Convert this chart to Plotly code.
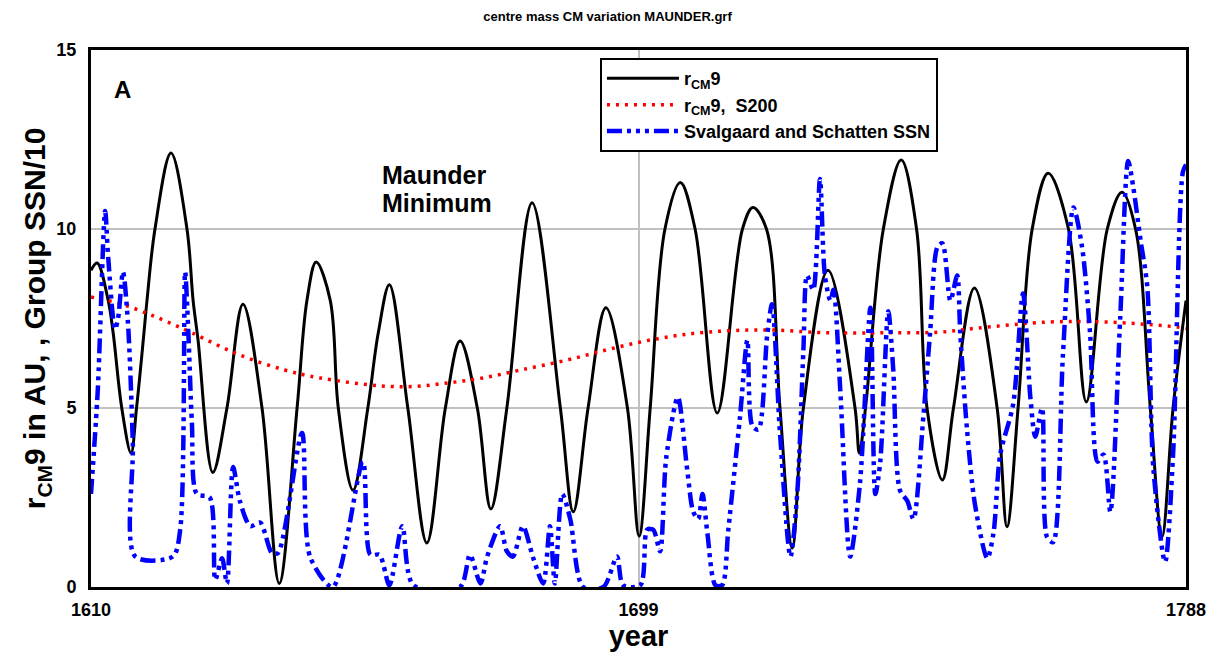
import plotly.graph_objects as go

# r_CM9 (AU): turning points and intermediate readings
rcm_year = [1610.0, 1611.0, 1612.8, 1613.6, 1615.0, 1616.5, 1617.4, 1618.5, 1619.1, 1620.4,
            1623.0, 1625.6, 1626.6, 1627.4, 1629.8, 1632.1, 1634.7, 1637.8, 1640.6, 1643.5,
            1645.1, 1646.6, 1648.9, 1650.2, 1652.6, 1655.0, 1656.7, 1658.5, 1661.5, 1664.6,
            1667.6, 1670.0, 1672.8, 1675.0, 1677.6, 1681.7, 1686.3, 1688.4, 1690.8, 1693.7,
            1697.2, 1699.1, 1700.9, 1703.3, 1705.8, 1708.2, 1711.8, 1715.9, 1717.6, 1719.8,
            1722.0, 1724.0, 1725.8, 1729.8, 1734.2, 1734.9, 1735.9, 1738.8, 1741.7, 1744.2,
            1745.9, 1748.4, 1750.2, 1753.6, 1757.3, 1758.9, 1760.7, 1763.0, 1765.6, 1768.9,
            1771.8, 1775.2, 1777.6, 1779.8, 1782.2, 1784.1, 1785.9, 1788.0]
rcm_val = [8.85, 9.05, 8.0, 7.1, 5.0, 3.74, 5.0, 6.9, 8.0, 10.0,
           12.12, 10.0, 8.0, 6.9, 3.2, 5.0, 7.9, 5.0, 0.1, 5.0,
           8.0, 9.08, 8.0, 5.0, 2.7, 5.0, 7.1, 8.44, 5.0, 1.23,
           5.0, 6.87, 5.0, 2.18, 5.0, 10.73, 5.0, 2.1, 5.0, 7.8,
           5.0, 1.42, 5.0, 10.0, 11.3, 10.0, 4.86, 10.0, 10.6, 10.0,
           5.0, 1.09, 5.0, 8.85, 5.0, 3.74, 5.0, 10.0, 11.93, 10.0,
           5.0, 2.99, 5.0, 8.35, 5.0, 1.68, 5.0, 10.0, 11.56, 10.0,
           5.17, 10.0, 11.03, 10.0, 5.0, 1.4, 5.0, 8.0]

# r_CM9 smoothed over 200 years (S200)
s200_year = [1610, 1615, 1619, 1622.5, 1626.4, 1633.9, 1641.5, 1647.2, 1657, 1662.4,
             1668, 1673.7, 1679.8, 1687.4, 1694.9, 1702.5, 1710.2, 1719.9, 1729.7, 1739.4,
             1748, 1754, 1765.4, 1775.2, 1786.6, 1788]
s200_val = [8.1, 7.9, 7.65, 7.4, 7.1, 6.5, 6.06, 5.84, 5.62, 5.6,
            5.7, 5.84, 6.06, 6.34, 6.67, 6.95, 7.12, 7.18, 7.1, 7.1,
            7.12, 7.23, 7.4, 7.4, 7.26, 7.22]

# Svalgaard and Schatten group sunspot number / 10
ssn_year = [1610.0, 1611.1, 1612.3, 1612.8, 1613.9, 1614.4, 1615.2, 1616.0, 1616.8, 1617.2,
            1623.3, 1624.5, 1625.3, 1625.8, 1626.4, 1627.2, 1629.3, 1630.2, 1631.3, 1632.1,
            1633.1, 1634.2, 1635.9, 1637.5, 1639.4, 1640.4, 1644.3, 1645.6, 1649.3, 1654.2,
            1655.4, 1656.9, 1658.5, 1660.6, 1662.4, 1670.0, 1671.6, 1673.3, 1674.4, 1676.5,
            1677.6, 1678.6, 1680.2, 1681.9, 1683.5, 1684.6, 1685.4, 1686.6, 1687.9, 1690.0,
            1693.3, 1695.5, 1696.5, 1699.3, 1700.4, 1701.4, 1702.5, 1703.5, 1705.4, 1706.9,
            1707.9, 1708.7, 1709.4, 1710.2, 1711.5, 1712.6, 1713.6, 1715.5, 1716.7, 1717.5,
            1718.5, 1719.9, 1720.7, 1722.0, 1723.7, 1724.8, 1725.8, 1726.4, 1727.4, 1728.5,
            1729.3, 1730.2, 1730.7, 1731.8, 1733.4, 1735.0, 1736.7, 1737.5, 1738.3, 1739.6,
            1740.4, 1741.5, 1742.7, 1743.7, 1745.3, 1746.4, 1747.6, 1748.4, 1749.7, 1750.8,
            1751.3, 1752.4, 1753.7, 1755.7, 1756.7, 1757.8, 1759.9, 1761.5, 1762.7, 1763.5,
            1764.6, 1765.4, 1766.4, 1768.0, 1769.7, 1771.1, 1772.4, 1773.6, 1774.6, 1775.7,
            1777.3, 1778.6, 1779.4, 1780.6, 1781.7, 1782.7, 1784.6, 1785.9, 1787.5, 1788.0]
ssn_val = [2.6, 5.5, 10.5, 9.2, 7.2, 7.5, 8.8, 7.4, 4.0, 0.85,
           0.85, 1.6, 8.8, 7.2, 4.6, 2.6, 2.5, 0.2, 0.8, 0.1,
           3.35, 2.4, 1.7, 1.8, 0.95, 0.95, 4.3, 0.85, 0.0, 3.5,
           0.9, 0.9, 0.05, 1.7, 0.05, 0.0, 0.9, 0.1, 0.85, 1.7,
           1.0, 0.85, 1.7, 0.8, 0.1, 1.7, 0.1, 2.6, 1.9, 0.0,
           0.0, 0.85, 0.05, 0.05, 1.6, 1.6, 1.0, 3.6, 5.3, 3.3,
           2.1, 1.9, 2.6, 1.5, 0.05, 0.05, 1.6, 4.75, 6.9, 4.5,
           4.4, 7.0, 7.9, 4.3, 0.85, 2.6, 6.6, 8.7, 8.3, 11.4,
           8.7, 8.0, 8.3, 5.5, 0.85, 2.9, 7.8, 2.6, 3.5, 7.7,
           6.1, 2.7, 2.4, 1.9, 4.75, 7.1, 9.5, 9.6, 8.0, 8.7,
           7.1, 4.4, 2.3, 0.8, 1.5, 3.7, 5.1, 8.2, 5.3, 4.2,
           5.0, 1.4, 1.25, 6.5, 10.6, 9.5, 7.1, 3.5, 3.7, 2.1,
           7.5, 11.9, 11.2, 9.7, 8.4, 3.3, 0.7, 3.7, 11.6, 11.8]

x_ticks = [1610, 1699, 1788]
y_ticks = [0, 5, 10, 15]

FONT = "Liberation Sans, Arial, sans-serif"

fig = go.Figure()

fig.add_trace(go.Scatter(
    x=rcm_year, y=rcm_val, mode="lines", name="r<sub>CM</sub>9",
    line=dict(color="black", width=3, shape="spline", smoothing=1.0),
))
fig.add_trace(go.Scatter(
    x=s200_year, y=s200_val, mode="lines", name="r<sub>CM</sub>9,  S200",
    line=dict(color="#ff0000", width=3.5, dash="3px,6px", shape="spline"),
))
fig.add_trace(go.Scatter(
    x=ssn_year, y=ssn_val, mode="lines", name="Svalgaard and Schatten SSN",
    line=dict(color="#0000ff", width=4.5, shape="spline", smoothing=0.8,
              dash="15px,5px,4px,5px,4px,5px,4px,5px"),
))

# panel letter and period label
fig.add_annotation(x=1615.2, y=13.9, xref="x", yref="y", text="<b>A</b>",
                   showarrow=False, xanchor="center", yanchor="middle",
                   font=dict(family=FONT, size=24, color="black"))
fig.add_annotation(x=1656.9, y=11.5, xref="x", yref="y", text="<b>Maunder</b>",
                   showarrow=False, xanchor="left", yanchor="middle",
                   font=dict(family=FONT, size=25, color="black"))
fig.add_annotation(x=1656.9, y=10.72, xref="x", yref="y", text="<b>Minimum</b>",
                   showarrow=False, xanchor="left", yanchor="middle",
                   font=dict(family=FONT, size=25, color="black"))

fig.update_layout(
    width=1215, height=654,
    margin=dict(l=91, r=29, t=50, b=67, autoexpand=False),
    paper_bgcolor="white", plot_bgcolor="white",
    title=dict(text="<b>centre mass CM variation MAUNDER.grf</b>",
               x=0.5, xref="container", xanchor="center",
               y=0.975, yref="container", yanchor="middle",
               font=dict(family=FONT, size=13, color="black")),
    showlegend=True,
    legend=dict(x=0.4648, y=0.985, xanchor="left", yanchor="top",
                bgcolor="white", bordercolor="black", borderwidth=2,
                font=dict(family=FONT, size=18, color="black", weight="bold"),
                tracegroupgap=0, itemwidth=72),
    xaxis=dict(range=[1610, 1788], tickvals=x_ticks, ticktext=[str(v) for v in x_ticks],
               showgrid=True, gridcolor="#c0c0c0", gridwidth=1.5,
               showline=True, linecolor="black", linewidth=3, mirror=True,
               zeroline=False, ticks="", ticklen=0, ticklabelstandoff=4,
               automargin=False,
               tickfont=dict(family=FONT, size=18, color="black", weight="bold"),
               title=dict(text="<b>year</b>", standoff=0,
                          font=dict(family=FONT, size=29, color="black"))),
    yaxis=dict(range=[0, 15], tickvals=y_ticks,
               showgrid=True, gridcolor="#c0c0c0", gridwidth=1.5,
               showline=True, linecolor="black", linewidth=3, mirror=True,
               zeroline=False, ticks="", ticklen=0, ticklabelstandoff=8,
               automargin=False,
               tickfont=dict(family=FONT, size=18, color="black", weight="bold"),
               title=dict(text="<b>r<sub>CM</sub>9 in AU, , Group SSN/10</b>", standoff=2,
                          font=dict(family=FONT, size=30, color="black"))),
)

fig.write_html("out.html")
